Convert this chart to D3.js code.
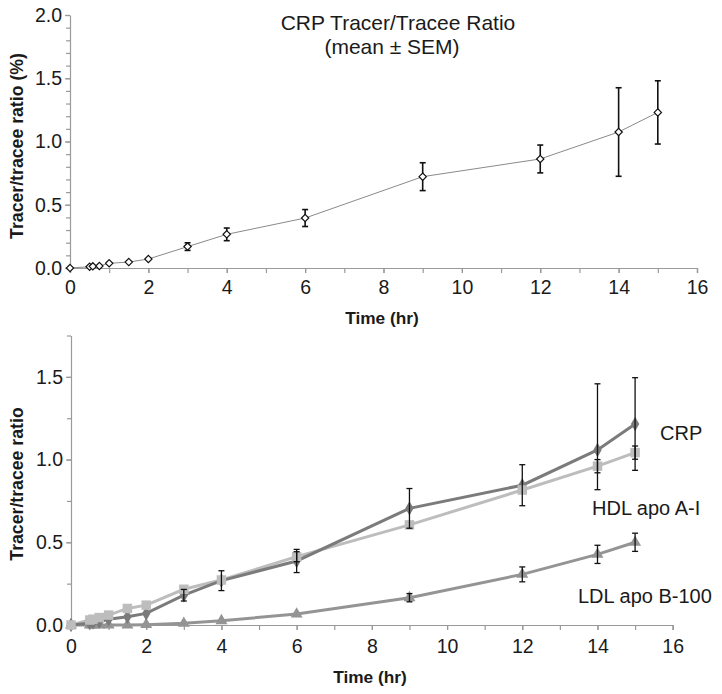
<!DOCTYPE html>
<html>
<head>
<meta charset="utf-8">
<script src="https://cdn.jsdelivr.net/npm/d3@7"></script>
<style>
  html, body { margin: 0; padding: 0; background: #fff; }
  svg text { font-family: "Liberation Sans", Arial, Helvetica, sans-serif; fill: #1a1a1a; }
</style>
</head>
<body>
<svg id="chart" width="722" height="694"></svg>
<script>
// ---------- Data ----------
const times = [0, 0.5, 0.583, 0.75, 1, 1.5, 2, 3, 4, 6, 9, 12, 14, 15];

// Top panel: CRP tracer/tracee ratio (%) mean ± SEM
const topMean = [0, 0.01, 0.013, 0.016, 0.037, 0.047, 0.071, 0.169, 0.266, 0.395, 0.722, 0.862, 1.075, 1.23];
const topSem  = [0, 0, 0, 0, 0, 0, 0, 0.03, 0.05, 0.067, 0.11, 0.11, 0.35, 0.25];

// Bottom panel
const crpValues = [0, 0.01, 0.015, 0.02, 0.035, 0.05, 0.07, 0.18, 0.268, 0.387, 0.705, 0.845, 1.058, 1.215];
const crpErrUp  = [0, 0, 0, 0, 0, 0, 0, 0.035, 0.06, 0.07, 0.12, 0.124, 0.40, 0.28];
const crpErrDn  = [0, 0, 0, 0, 0, 0, 0, 0.035, 0.06, 0.07, 0.12, 0.124, 0.24, 0.28];
const hdlValues = [0, 0.03, 0.035, 0.045, 0.06, 0.10, 0.12, 0.216, 0.272, 0.413, 0.605, 0.816, 0.96, 1.042];
const hdlErr    = [0, 0, 0, 0, 0, 0, 0, 0, 0, 0.03, 0, 0, 0.04, 0.04];
const ldlValues = [0, 0, 0, 0, 0, 0, 0.002, 0.01, 0.026, 0.066, 0.165, 0.306, 0.427, 0.50];
const ldlErr    = [0, 0, 0, 0, 0, 0, 0, 0, 0, 0, 0.025, 0.045, 0.055, 0.055];

const xTickValues = [0, 2, 4, 6, 8, 10, 12, 14, 16];
const topYTicks = [0, 0.5, 1.0, 1.5, 2.0];
const botYTicks = [0, 0.5, 1.0, 1.5];
const seriesLabels = ["CRP", "HDL apo A-I", "LDL apo B-100"];
const titleLines = ["CRP Tracer/Tracee Ratio", "(mean \u00b1 SEM)"];

// ---------- Setup ----------
const svg = d3.select("#chart");
const axisColor = "#9a9a9a";
const fmt = d3.format(".1f");

function styleAxis(g) {
  g.select(".domain").attr("stroke", axisColor).attr("stroke-width", 1.2);
  g.selectAll(".tick line").attr("stroke", axisColor).attr("stroke-width", 1.2);
  g.selectAll(".tick text").attr("font-size", "19.5px").attr("fill", "#1a1a1a")
    .style("font-family", '"Liberation Sans", Arial, sans-serif');
}

function drawAxes(x, y, yMax, yMajor, yLabel, yLabelY, xLabelX, xLabelBaseline, xTickPad) {
  const y0 = y(0);
  // minor x ticks
  const gxMinor = svg.append("g").attr("transform", `translate(0,${y0})`)
    .call(d3.axisBottom(x).tickValues(d3.range(0, 17, 1)).tickSize(5).tickFormat(""));
  styleAxis(gxMinor);
  const gx = svg.append("g").attr("transform", `translate(0,${y0})`)
    .call(d3.axisBottom(x).tickValues(xTickValues).tickSize(5).tickPadding(xTickPad).tickFormat(d3.format("d")));
  styleAxis(gx);
  gx.select(".domain").remove();
  // y axis
  const minorStep = yMajor === topYTicks ? 0.1 : 0.25;
  const minorVals = d3.range(0, yMax + 1e-9, minorStep);
  const gyMinor = svg.append("g").attr("transform", `translate(${x(0)},0)`)
    .call(d3.axisLeft(y).tickValues(minorVals).tickSize(4).tickFormat("").tickSizeOuter(0));
  styleAxis(gyMinor);
  const gy = svg.append("g").attr("transform", `translate(${x(0)},0)`)
    .call(d3.axisLeft(y).tickValues(yMajor).tickSize(5).tickPadding(3).tickFormat(fmt).tickSizeOuter(0));
  styleAxis(gy);
  gy.select(".domain").remove();

  svg.append("text")
    .attr("transform", `translate(23,${yLabelY}) rotate(-90)`)
    .attr("text-anchor", "middle")
    .attr("font-size", "17.7px").attr("font-weight", "bold")
    .text(yLabel);
  svg.append("text")
    .attr("x", xLabelX).attr("y", xLabelBaseline)
    .attr("text-anchor", "middle")
    .attr("font-size", "17.3px").attr("font-weight", "bold")
    .text("Time (hr)");
}

function errorBars(g, xs, vals, up, dn, x, y, cap, width) {
  xs.forEach((t, i) => {
    if (!(up[i] > 0 || dn[i] > 0)) return;
    const cx = x(t), yt = y(vals[i] + up[i]), yb = y(vals[i] - dn[i]);
    g.append("line").attr("x1", cx).attr("x2", cx).attr("y1", yt).attr("y2", yb)
      .attr("stroke", "#111").attr("stroke-width", width);
    if (up[i] > 0) g.append("line").attr("x1", cx - cap).attr("x2", cx + cap).attr("y1", yt).attr("y2", yt)
      .attr("stroke", "#111").attr("stroke-width", width);
    if (dn[i] > 0) g.append("line").attr("x1", cx - cap).attr("x2", cx + cap).attr("y1", yb).attr("y2", yb)
      .attr("stroke", "#111").attr("stroke-width", width);
  });
}

// ---------- Top panel ----------
const xTop = d3.scaleLinear().domain([0, 16]).range([70, 697]);
const yTop = d3.scaleLinear().domain([0, 2.0]).range([268, 15]);
drawAxes(xTop, yTop, 2.0, topYTicks, "Tracer/tracee ratio (%)", 146, 382, 324, 7);

const topData = times.map((t, i) => ({ t, v: topMean[i], e: topSem[i] }));
svg.append("path").datum(topData)
  .attr("fill", "none").attr("stroke", "#8a8a8a").attr("stroke-width", 1)
  .attr("d", d3.line().x(d => xTop(d.t)).y(d => yTop(d.v)));
const gErrTop = svg.append("g");
errorBars(gErrTop, times, topMean, topSem, topSem, xTop, yTop, 3, 1.6);
svg.append("g").selectAll("path").data(topData).join("path")
  .attr("transform", d => `translate(${xTop(d.t)},${yTop(d.v)})`)
  .attr("d", d3.symbol(d3.symbolDiamond2, 34))
  .attr("fill", "#fff").attr("stroke", "#111").attr("stroke-width", 1.2);

svg.append("text").attr("x", 398).attr("y", 30).attr("text-anchor", "middle")
  .attr("font-size", "21px").text(titleLines[0]);
svg.append("text").attr("x", 392).attr("y", 54).attr("text-anchor", "middle")
  .attr("font-size", "21px").text(titleLines[1]);

// ---------- Bottom panel ----------
const xBot = d3.scaleLinear().domain([0, 16]).range([71, 672.7]);
const yBot = d3.scaleLinear().domain([0, 1.75]).range([625, 335.5]);
drawAxes(xBot, yBot, 1.75, botYTicks, "Tracer/tracee ratio", 484, 370, 683, 9);

const series = [
  { name: seriesLabels[2], vals: ldlValues, up: ldlErr, dn: ldlErr, color: "#949494", sym: d3.symbolTriangle, size: 62 },
  { name: seriesLabels[1], vals: hdlValues, up: hdlErr, dn: hdlErr, color: "#bdbdbd", sym: d3.symbolSquare, size: 90 },
  { name: seriesLabels[0], vals: crpValues, up: crpErrUp, dn: crpErrDn, color: "#7b7b7b", sym: d3.symbolDiamond, size: 60 }
];
const lineBot = d3.line().x(d => xBot(d.t)).y(d => yBot(d.v));
series.forEach(s => {
  s.data = times.map((t, i) => ({ t, v: s.vals[i] }));
  svg.append("path").datum(s.data)
    .attr("fill", "none").attr("stroke", s.color).attr("stroke-width", 3)
    .attr("d", lineBot);
});
[series[0], series[2], series[1]].forEach(s => {
  svg.append("g").selectAll("path").data(s.data).join("path")
    .attr("transform", d => `translate(${xBot(d.t)},${yBot(d.v)})`)
    .attr("d", d3.symbol(s.sym, s.size))
    .attr("fill", s.color);
});
const gErrBot = svg.append("g");
series.forEach(s => errorBars(gErrBot, times, s.vals, s.up, s.dn, xBot, yBot, 3, 1.3));

svg.append("text").attr("x", 660).attr("y", 440).attr("font-size", "20px").text(seriesLabels[0]);
svg.append("text").attr("x", 592).attr("y", 515).attr("font-size", "20px").text(seriesLabels[1]);
svg.append("text").attr("x", 578).attr("y", 603).attr("font-size", "20px").text(seriesLabels[2]);
</script>
</body>
</html>
